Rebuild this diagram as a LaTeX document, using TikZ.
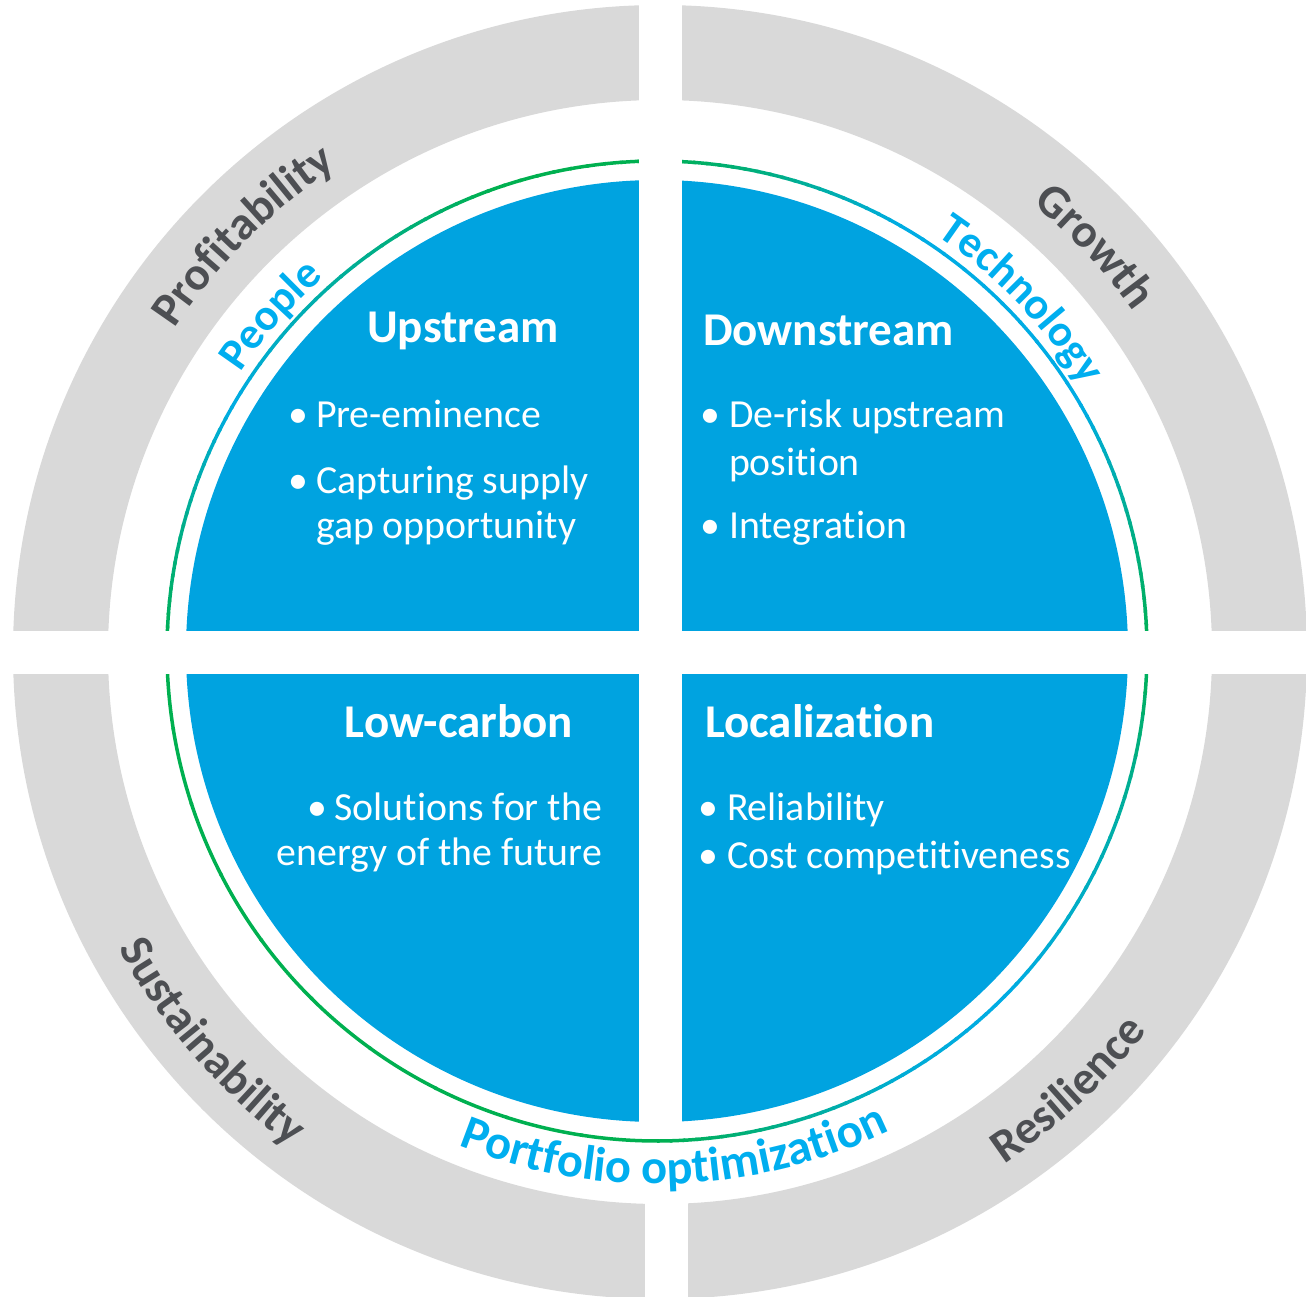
\documentclass[tikz,border=0pt]{standalone}
\usepackage{fontspec}
\setmainfont{Carlito}[Ligatures={NoCommon}]
\usetikzlibrary{decorations.text}
\definecolor{qblue}{RGB}{0,163,224}
\definecolor{ringgray}{RGB}{217,217,217}
\definecolor{ringtext}{RGB}{77,79,83}
\definecolor{labelblue}{RGB}{0,174,239}
\definecolor{ringgreen}{RGB}{0,176,80}
\definecolor{ringcyan}{RGB}{0,172,228}
\newcommand\rlabelfont{\fontsize{47}{47}\selectfont\bfseries}
\newcommand\blabelfont{\fontsize{44.5}{44.5}\selectfont\bfseries}
\newcommand\plabelfont{\fontsize{48.5}{48.5}\selectfont\bfseries}
\tikzset{
  every node/.style={inner sep=0pt, outer sep=0pt, text=white},
  qtitle/.style={font=\fontsize{47}{56}\selectfont\bfseries},
  qitem/.style={font=\fontsize{39.8}{47}\selectfont},
  qbullet/.style={font=\fontsize{39.8}{47}\selectfont, anchor=base},
}
\begin{document}
\begin{tikzpicture}[x=1pt,y=1pt]
\useasboundingbox (0,0) rectangle (1306,-1297);
% outer gray ring
\fill[ringgray, even odd rule] (660,-652) circle[radius=647] (660,-652) circle[radius=552];
% green / cyan circle
\foreach \a/\b/\ga/\gb in {0/15/100/60, 15/30/60/0, 30/60/0/0, 60/75/0/60, 75/90/60/100, 90/110/100/100, 110/130/100/50, 130/150/50/0, 150/165/0/60, 165/180/60/100, 180/270/100/100, 270/285/100/60, 285/300/60/10, 300/315/10/0, 315/335/0/30, 335/360/30/100}{
  \foreach \i in {0,...,9}{
    \pgfmathsetmacro\segs{\a+(\b-\a)*\i/10}
    \pgfmathsetmacro\sege{\a+(\b-\a)*(\i+1)/10+0.3}
    \pgfmathtruncatemacro\segg{\ga+(\gb-\ga)*(\i+0.5)/10}
    \draw[line width=3.5, color=ringgreen!\segg!ringcyan] (657,-651) ++(\segs:490) arc[start angle=\segs, end angle=\sege, radius=490];
  }
}
% blue disk
\fill[qblue] (657,-651) circle[radius=471];
% gaps
\fill[white] (0,-631) rectangle (1306,-674);
\fill[white] (639,0) rectangle (682,-631);
\fill[white] (639,-674) rectangle (682,-1131);
\fill[white] (645,-1180) rectangle (688,-1297);
% ring labels
\path[decorate, decoration={text along path, text align=center, text color=ringtext, text={|\rlabelfont|Profitability}}]
  (660,-652) ++(166:583) arc[start angle=166, end angle=104, radius=583];
\path[decorate, decoration={text along path, text align=center, text color=ringtext, text={|\rlabelfont|Growth}}]
  (660,-652) ++(73:583) arc[start angle=73, end angle=13, radius=583];
\path[decorate, decoration={text along path, text align=center, text color=ringtext, text={|\rlabelfont|Sustainability}}]
  (660,-652) ++(188:617) arc[start angle=188, end angle=254, radius=617];
\path[decorate, decoration={text along path, text align=center, text color=ringtext, text={|\rlabelfont|Resilience}}]
  (660,-652) ++(283:617) arc[start angle=283, end angle=343, radius=617];
% theme labels
\path[decorate, decoration={text along path, text align=center, text color=labelblue, text={|\blabelfont|People}}]
  (657,-651) ++(164:501) arc[start angle=164, end angle=114, radius=501];
\path[decorate, decoration={text along path, text align=center, text color=labelblue, text={|\blabelfont|Technology}}]
  (657,-651) ++(75:501) arc[start angle=75, end angle=13, radius=501];
\path[decorate, decoration={text along path, text align=center, text color=labelblue, text={|\plabelfont|Portfolio optimization}}]
  (657,-651) ++(230:533) arc[start angle=230, end angle=314, radius=533];
% Upstream
\node[qtitle, anchor=base] (upt) at (463,-342) {Upstream};
\node[qbullet] (upb1) at (298,-427) {•};
\node[qitem, anchor=base west] (upi1) at (316,-427) {Pre-eminence};
\node[qbullet] (upb2) at (298,-493) {•};
\node[qitem, anchor=base west] (upi2) at (316,-493) {Capturing supply};
\node[qitem, anchor=base west] (upi3) at (316,-538) {gap opportunity};
% Downstream
\node[qtitle, anchor=base west] (dnt) at (703,-345) {Downstream};
\node[qbullet] (dnb1) at (710,-427) {•};
\node[qitem, anchor=base west] (dni1) at (729,-427) {De-risk upstream};
\node[qitem, anchor=base west] (dni2) at (729,-475) {position};
\node[qbullet] (dnb2) at (710,-538) {•};
\node[qitem, anchor=base west] (dni3) at (729,-538) {Integration};
% Low-carbon
\node[qtitle, anchor=base] (lct) at (459,-737) {Low-carbon};
\node[qbullet] (lcb1) at (317,-820) {•};
\node[qitem, anchor=base east] (lci1) at (602,-820) {Solutions for the};
\node[qitem, anchor=base east] (lci2) at (602,-865) {energy of the future};
% Localization
\node[qtitle, anchor=base west] (lot) at (705,-737) {Localization};
\node[qbullet] (lob1) at (708,-820) {•};
\node[qitem, anchor=base west] (loi1) at (727,-820) {Reliability};
\node[qbullet] (lob2) at (708,-868) {•};
\node[qitem, anchor=base west] (loi2) at (727,-868) {Cost competitiveness};
\end{tikzpicture}
\end{document}
